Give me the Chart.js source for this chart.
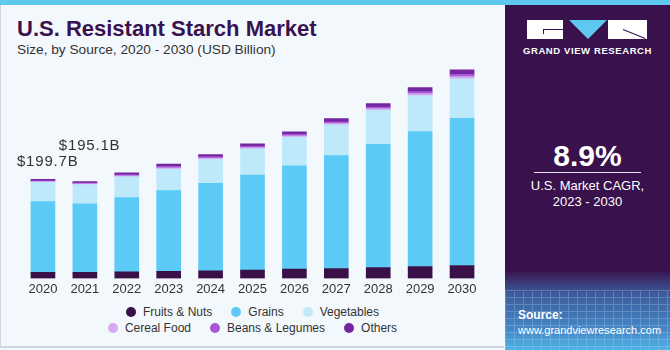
<!DOCTYPE html>
<html>
<head>
<meta charset="utf-8">
<script src="https://cdn.jsdelivr.net/npm/chart.js@4.4.1/dist/chart.umd.min.js"></script>
<style>
  html, body { margin: 0; padding: 0; }
  body { width: 670px; height: 350px; position: relative; overflow: hidden; background: #f3f8fc;
         font-family: "Liberation Sans", Arial, sans-serif; }
  .topbar { position: absolute; left: 0; top: 0; width: 670px; height: 5px; background: #5ec8ef; }
  .frame { position: absolute; left: 0; top: 5px; width: 504px; height: 343px;
           border-left: 1px solid #cfd6de; border-bottom: 2px solid #cfd6de; box-sizing: border-box; }
  .title { position: absolute; left: 17px; top: 16px; font-size: 22px; font-weight: bold; color: #3a1250; }
  .subtitle { position: absolute; left: 17px; top: 42px; font-size: 13.7px; color: #333; }
  .chartbox { position: absolute; left: 0; top: 60px; width: 500px; height: 243px; }
  .legend { position: absolute; left: 0; top: 304px; width: 505px; font-size: 12px; color: #333; }
  .legend .row { display: flex; justify-content: center; gap: 19px; height: 16px; line-height: 16px; }
  .legend .item { display: flex; align-items: center; }
  .legend .dot { width: 10px; height: 10px; border-radius: 50%; margin-right: 7px; }
  .panel { position: absolute; left: 505px; top: 5px; width: 165px; height: 345px; background: #39114c; overflow: hidden; }
  .panel .fade { position: absolute; left: 0; top: 265px; width: 165px; height: 80px;
                 background: linear-gradient(to bottom, rgba(58,90,150,0) 0%, #3d5c9c 30%, #4587c6 75%, #4fb2e6 100%); }
  .panel .grid { position: absolute; left: 0; top: 285px; width: 165px; height: 60px; opacity: 0.25;
                 background-image: repeating-linear-gradient(to right, #bfe6ff 0 1px, transparent 1px 9px),
                                   repeating-linear-gradient(to bottom, #bfe6ff 0 1px, transparent 1px 7px); }
  .logo div { position: absolute; }
  .gvr { position: absolute; left: 0; width: 165px; top: 40px; text-align: center; color: #fff;
         font-size: 9.5px; font-weight: bold; letter-spacing: 0.6px; }
  .cagr { position: absolute; left: 0; width: 165px; top: 134px; text-align: center; color: #fff;
          font-size: 30px; font-weight: bold; }
  .rule { position: absolute; left: 29px; top: 167px; width: 107px; height: 1px; background: #e6e0ea; }
  .cagrtxt { position: absolute; left: 0; width: 165px; top: 173px; text-align: center; color: #fff;
             font-size: 13px; line-height: 16px; }
  .source { position: absolute; left: 13px; top: 303px; color: #fff; font-size: 11px; line-height: 15px; }
  .source b { font-size: 12px; }
</style>
</head>
<body>
<div class="topbar"></div>
<div class="frame"></div>
<div class="title">U.S. Resistant Starch Market</div>
<div class="subtitle">Size, by Source, 2020 - 2030 (USD Billion)</div>
<div class="chartbox"><canvas id="chart" width="500" height="243"></canvas></div>
<div class="legend" id="legend"></div>

<div class="panel">
  <div class="fade"></div>
  <div class="grid"></div>
  <div class="logo">
    <div style="left:22px;top:15px;width:36px;height:19px;background:#fff;"></div>
    <div style="left:38px;top:24px;width:20px;height:1px;background:#39114c;"></div>
    <div style="left:38px;top:24px;width:1px;height:5px;background:#39114c;"></div>
    <div style="left:64px;top:15px;width:0;height:0;border-left:19px solid transparent;border-right:19px solid transparent;border-top:19px solid #5ec8ef;"></div>
    <div style="left:103px;top:15px;width:39px;height:19px;background:#fff;"></div>
    <div style="left:118px;top:24px;width:24px;height:1px;background:#39114c;transform:rotate(22deg);transform-origin:left center;"></div>
  </div>
  <div class="gvr">GRAND VIEW RESEARCH</div>
  <div class="cagr">8.9%</div>
  <div class="rule"></div>
  <div class="cagrtxt">U.S. Market CAGR,<br>2023 - 2030</div>
  <div class="source"><b>Source:</b><br>www.grandviewresearch.com</div>
</div>

<script>
// data (USD billion)
var years = ['2020', '2021', '2022', '2023', '2024', '2025', '2026', '2027', '2028', '2029', '2030'];
var fruitsNuts   = [12.1, 12.3, 13.0, 14.0, 15.0, 17.0, 19.0, 20.0, 22.0, 24.0, 26.0];
var grains       = [142.5, 137.9, 150.0, 162.8, 176.3, 191.0, 207.8, 227.3, 248.0, 271.7, 296.5];
var vegetables   = [39.1, 38.9, 41.5, 43.6, 48.4, 53.0, 57.9, 61.9, 68.6, 72.6, 79.5];
var cerealFood   = [1.5, 1.5, 2.0, 2.5, 2.5, 2.5, 2.7, 3.2, 3.4, 4.0, 4.5];
var beansLegumes = [1.5, 1.5, 2.0, 2.5, 2.5, 2.5, 2.7, 3.2, 3.4, 4.0, 4.5];
var others       = [3.0, 3.0, 4.0, 5.0, 5.0, 5.0, 5.3, 6.3, 6.7, 8.0, 9.0];
var seriesNames  = ['Fruits & Nuts', 'Grains', 'Vegetables', 'Cereal Food', 'Beans & Legumes', 'Others'];
var seriesColors = ['#3a1049', '#5ccaf6', '#bde9fa', '#d6aaee', '#a957d9', '#7425a0'];
var valueLabels  = [{ index: 0, text: '$199.7B', rise: 17 }, { index: 1, text: '$195.1B', rise: 36 }];

var seriesData = [fruitsNuts, grains, vegetables, cerealFood, beansLegumes, others];

var datasets = seriesData.map(function (d, i) {
    return {
        label: seriesNames[i],
        data: d,
        backgroundColor: seriesColors[i],
        borderWidth: 0,
        barThickness: 24
    };
});

// labels above the first two bars
var totalLabels = {
    id: 'totalLabels',
    afterDatasetsDraw: function (chart) {
        var ctx = chart.ctx;
        var top = chart.getDatasetMeta(datasets.length - 1);
        ctx.save();
        ctx.fillStyle = '#333';
        ctx.font = '15px "Liberation Sans", Arial, sans-serif';
        if ('letterSpacing' in ctx) ctx.letterSpacing = '0.8px';
        ctx.textBaseline = 'middle';
        ctx.textAlign = 'left';
        valueLabels.forEach(function (l) {
            var bar = top.data[l.index];
            ctx.fillText(l.text, bar.x - 26, bar.y - l.rise);
        });
        ctx.restore();
    }
};

new Chart(document.getElementById('chart').getContext('2d'), {
    type: 'bar',
    data: { labels: years, datasets: datasets },
    options: {
        responsive: false,
        animation: false,
        layout: { padding: { left: 22, right: 17, top: 0, bottom: 3 } },
        plugins: { legend: { display: false }, tooltip: { enabled: false } },
        scales: {
            x: {
                stacked: true,
                grid: { display: false, drawTicks: false },
                border: { display: false },
                ticks: { color: '#333', font: { size: 13, family: '"Liberation Sans", Arial, sans-serif' }, padding: 3 }
            },
            y: { stacked: true, display: false, min: 0, max: 440 }
        }
    },
    plugins: [totalLabels]
});

// html legend, 3 per row
var legend = document.getElementById('legend');
[[0, 1, 2], [3, 4, 5]].forEach(function (idx) {
    var row = document.createElement('div');
    row.className = 'row';
    idx.forEach(function (i) {
        var it = document.createElement('div');
        it.className = 'item';
        it.innerHTML = '<span class="dot" style="background:' + seriesColors[i] + '"></span>' + seriesNames[i].replace('&', '&amp;');
        row.appendChild(it);
    });
    legend.appendChild(row);
});
</script>
</body>
</html>
